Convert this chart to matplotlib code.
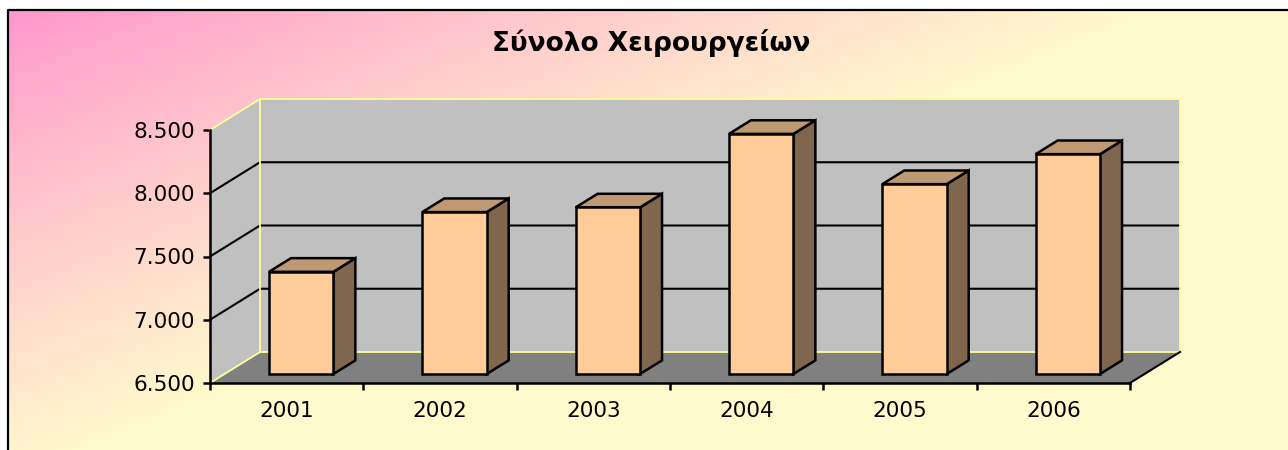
import numpy as np
import matplotlib
matplotlib.use("Agg")
import matplotlib.pyplot as plt
from matplotlib.patches import Polygon
from matplotlib.ticker import FixedLocator, FuncFormatter

# ---- data ----
title = "Σύνολο Χειρουργείων"
years = ["2001", "2002", "2003", "2004", "2005", "2006"]
values = [7308, 7780, 7817, 8398, 8001, 8238]
y_ticks = [6500, 7000, 7500, 8000, 8500]

# ---- style ----
W, H, DPI = 1288, 450, 100
front_col = "#FFCC99"
top_col = "#BF9973"
side_col = "#80664D"
wall_col = "#C0C0C0"
floor_col = "#808080"
edge_yellow = "#FFFF99"
pink = np.array([255, 150, 204]) / 255
yellow = np.array([255, 250, 205]) / 255

fig = plt.figure(figsize=(W / DPI, H / DPI), dpi=DPI, facecolor="white")

# background with diagonal gradient and frame
bg = fig.add_axes([0, 0, 1, 1], zorder=-10)
gx, gy = np.meshgrid(np.linspace(0, W, 400), np.linspace(0, H, 200))
t = np.clip(gx / 1150 + gy / 470, 0, 1) ** 0.9
img = pink[None, None, :] * (1 - t[..., None]) + yellow[None, None, :] * t[..., None]
bg.imshow(img, extent=[8, W + 10, H + 10, 10], aspect="auto", interpolation="bilinear")
bg.plot([8, 8, W + 10], [H + 10, 10, 10], color="black", lw=1.6, solid_capstyle="butt")
bg.set_xlim(0, W)
bg.set_ylim(H, 0)
bg.axis("off")

# main axes = front plane of the 3D box
ax = fig.add_axes([210 / W, 67 / H, 920 / W, 253 / H])
n = len(years)
ymin, ymax = y_ticks[0], y_ticks[-1]
ax.set_xlim(0, n)
ax.set_ylim(ymin, ymax)
ax.patch.set_visible(False)

DX = 50 / (920 / n)                 # depth offset in category units
DY = 31 / (253 / (ymax - ymin))     # depth offset in value units

def P(x, y, d):
    return (x + d * DX, y + d * DY)

lw = 1.5
blw = 1.8
# walls
ax.add_patch(Polygon([P(0, ymin, 0), P(0, ymax, 0), P(0, ymax, 1), P(0, ymin, 1)],
                     closed=True, facecolor=wall_col, edgecolor="none", clip_on=False, zorder=1))
ax.add_patch(Polygon([P(0, ymin, 1), P(0, ymax, 1), P(n, ymax, 1), P(n, ymin, 1)],
                     closed=True, facecolor=wall_col, edgecolor="none", clip_on=False, zorder=1))
ax.add_patch(Polygon([P(0, ymin, 0), P(n, ymin, 0), P(n, ymin, 1), P(0, ymin, 1)],
                     closed=True, facecolor=floor_col, edgecolor="none", clip_on=False, zorder=1))

# gridlines
for v in y_ticks[1:-1]:
    xs, ys = zip(P(0, v, 0), P(0, v, 1), P(n, v, 1))
    ax.plot(xs, ys, color="black", lw=lw, clip_on=False, zorder=2)

# yellow edges
for seg in [[P(0, ymin, 1), P(0, ymax, 1), P(n, ymax, 1), P(n, ymin, 1), P(0, ymin, 1)],
            [P(0, ymax, 0), P(0, ymax, 1)],
            [P(0, ymin, 0), P(0, ymin, 1)]]:
    xs, ys = zip(*seg)
    ax.plot(xs, ys, color=edge_yellow, lw=1.3, clip_on=False, zorder=2.5)
xs, ys = zip(P(n, ymin, 0), P(n, ymin, 1))
ax.plot(xs, ys, color="black", lw=lw, clip_on=False, zorder=2.5)

# bars
d0, d1 = 0.29, 0.73
g0, g1 = 0.29, 0.71
for i, v in enumerate(values):
    x0, x1 = i + g0, i + g1
    front = [P(x0, ymin, d0), P(x0, v, d0), P(x1, v, d0), P(x1, ymin, d0)]
    top = [P(x0, v, d0), P(x1, v, d0), P(x1, v, d1), P(x0, v, d1)]
    side = [P(x1, ymin, d0), P(x1, v, d0), P(x1, v, d1), P(x1, ymin, d1)]
    for poly, col in [(side, side_col), (top, top_col), (front, front_col)]:
        ax.add_patch(Polygon(poly, closed=True, facecolor=col, edgecolor="black",
                             lw=blw, joinstyle="miter", clip_on=False, zorder=3))

# axes lines and ticks
for s in ["top", "right"]:
    ax.spines[s].set_visible(False)
for s in ["left", "bottom"]:
    ax.spines[s].set_linewidth(blw)
    ax.spines[s].set_zorder(4)

fs = 15.5
ax.yaxis.set_major_locator(FixedLocator(y_ticks))
ax.yaxis.set_major_formatter(FuncFormatter(lambda v, p: f"{int(v):,}".replace(",", ".")))
ax.tick_params(axis="y", direction="out", length=5, width=blw, pad=6, labelsize=fs)
ax.xaxis.set_major_locator(FixedLocator(np.arange(n + 1)))
ax.xaxis.set_major_formatter(FuncFormatter(lambda v, p: ""))
ax.set_xticks(np.arange(n) + 0.5, labels=years, minor=True)
ax.tick_params(axis="x", which="major", direction="out", length=5, width=blw)
ax.tick_params(axis="x", which="minor", length=0, pad=13, labelsize=fs)

fig.text(651 / W, 1 - 43 / H, title, ha="center", va="center",
         fontsize=19, fontweight="bold", family="DejaVu Sans")

fig.savefig("out.png", dpi=DPI, facecolor="white")
